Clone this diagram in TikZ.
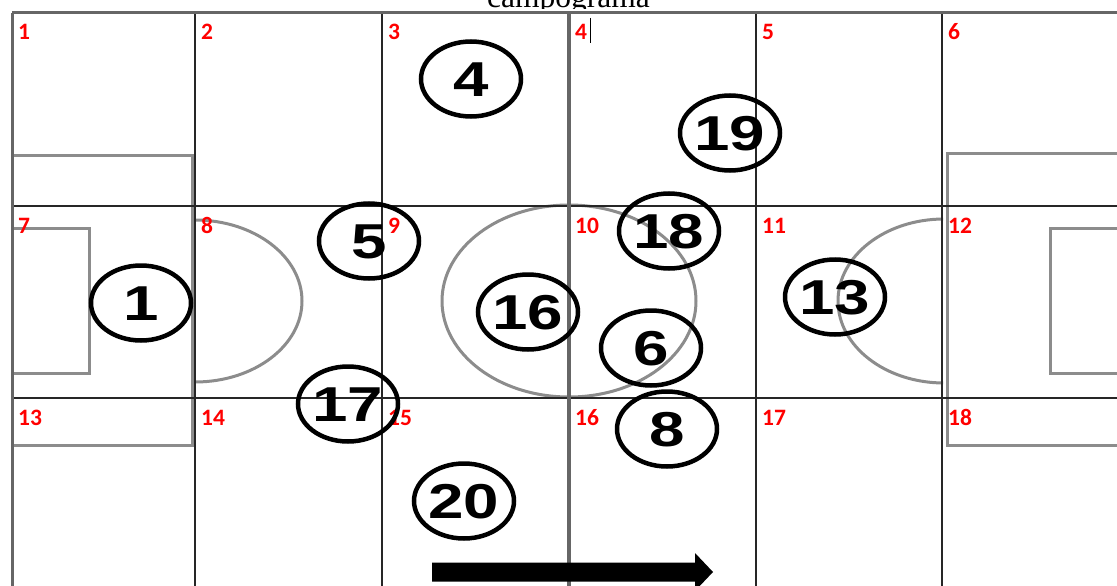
\documentclass[tikz,border=0pt]{standalone}
\usepackage{fontspec}
\usepackage{graphicx}
\setmainfont{Liberation Serif}
\newfontfamily\zonefont{Carlito}
\newfontfamily\playerfont{Liberation Sans}
\usetikzlibrary{shapes.geometric}
\newcommand\pnum[1]{\makebox[0pt]{\raisebox{-17.5pt}[0pt][0pt]{\scalebox{1.3}[1]{#1}}}}
\begin{document}
\begin{tikzpicture}[x=1pt,y=-1pt,
  gridline/.style={draw=black!85, line width=1.3pt},
  fieldline/.style={draw=black!45, line width=3pt},
  borderline/.style={draw=black!60, line width=3pt},
  zone/.style={text=red, font=\zonefont\bfseries\fontsize{23.5}{23.5}\selectfont, anchor=base west, inner sep=0pt},
  player/.style={ellipse, draw=black, line width=4.5pt, minimum width=100pt, minimum height=75pt, inner sep=0pt,
    font=\playerfont\bfseries\fontsize{49}{49}\selectfont},
  titletext/.style={font=\fontsize{31.5}{31.5}\selectfont, anchor=base, inner sep=0pt}]
\useasboundingbox (0,0) rectangle (1117,586);
\clip (0,0) rectangle (1117,586);
% title, partly hidden by the field picture
\node[titletext] (title) at (568.5,7.5) {campograma};
\fill[white] (0,9.5) rectangle (1117,586);
% field markings
\draw[fieldline] (12,155) -- (192,155) -- (192,445) -- (12,445);
\draw[fieldline] (12,228) -- (89,228) -- (89,373) -- (12,373);
\draw[fieldline] (1125,153) -- (947,153) -- (947,445) -- (1125,445);
\draw[fieldline] (1125,228) -- (1050,228) -- (1050,373) -- (1125,373);
\begin{scope}
  \clip (195,0) rectangle (400,586);
  \draw[fieldline] (195,301) ellipse [x radius=107, y radius=81];
\end{scope}
\begin{scope}
  \clip (700,0) rectangle (943,586);
  \draw[fieldline] (944,301) ellipse [x radius=106, y radius=82];
\end{scope}
\draw[fieldline] (569,301) ellipse [x radius=127, y radius=96];
% grid
\foreach \gx in {195,382,756,942} \draw[gridline] (\gx,13) -- (\gx,586);
\foreach \gy in {206,398} \draw[gridline] (12,\gy) -- (1117,\gy);
\draw[borderline] (12,13) -- (1117,13);
\draw[borderline] (12,13) -- (12,586);
\draw[borderline, line width=3.5pt] (569,13) -- (569,586);
% cursor mark
\draw[line width=0.8pt] (590,18) -- (590,43);
% zone numbers
\foreach \n/\zx/\zy in {1/18/40, 2/201/40, 3/388/40, 4/575/40, 5/762/40, 6/948/40,
  7/18/233, 8/201/233, 9/388/233, 10/575/233, 11/762/233, 12/948/233,
  13/18/425, 14/201/425, 15/388/425, 16/575/425, 17/762/425, 18/948/425}
  \node[zone] (z\n) at (\zx,\zy) {\n};
% players
\node[player] (p4)  at (471,79)  {\pnum{4}};
\node[player] (p19) at (730,133) {\pnum{19}};
\node[player] (p5)  at (369,241) {\pnum{5}};
\node[player] (p18) at (669,231) {\pnum{18}};
\node[player] (p1)  at (141,303) {\pnum{1}};
\node[player] (p16) at (528,312) {\pnum{16}};
\node[player] (p13) at (835,297) {\pnum{13}};
\node[player] (p6)  at (651,348) {\pnum{6}};
\node[player] (p17) at (348,404) {\pnum{17}};
\node[player] (p8)  at (667,429) {\pnum{8}};
\node[player] (p20) at (464,501) {\pnum{20}};
% direction arrow
\coordinate (atail) at (432,572);
\coordinate (atip) at (713,572);
\fill[black] (atail) ++(0,-9.5) -- ++(263,0) -- ++(0,-9.5) -- (atip) -- ++(-18,19) -- ++(0,-9.5) -- ++(-263,0) -- cycle;
\end{tikzpicture}
\end{document}
